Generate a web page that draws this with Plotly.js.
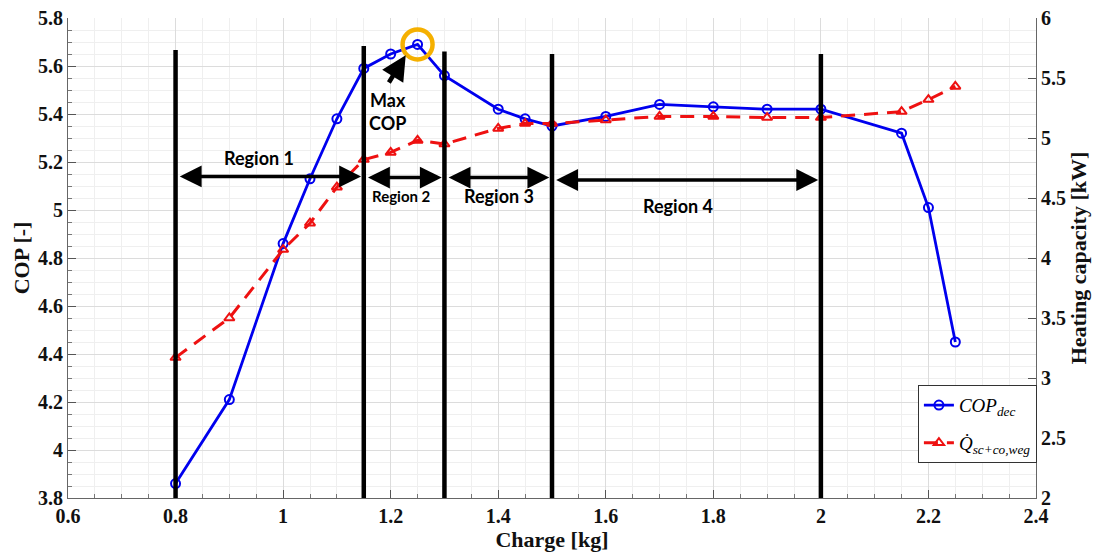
<!DOCTYPE html>
<html>
<head>
<meta charset="utf-8">
<script src="https://cdn.plot.ly/plotly-3.0.1.min.js"></script>
<style>html,body{margin:0;padding:0;background:#fff;}#chart{width:1104px;height:559px;}</style>
</head>
<body>
<div id="chart"></div>
<script>
// Data
const charge = [0.8, 0.9, 1.0, 1.05, 1.1, 1.15, 1.2, 1.25, 1.3, 1.4, 1.45, 1.5, 1.6, 1.7, 1.8, 1.9, 2.0, 2.15, 2.2, 2.25];
const copDec = [3.86, 4.21, 4.86, 5.13, 5.38, 5.59, 5.65, 5.69, 5.56, 5.42, 5.38, 5.35, 5.39, 5.44, 5.43, 5.42, 5.42, 5.32, 5.01, 4.45];
const heatCap = [3.17, 3.50, 4.07, 4.29, 4.59, 4.82, 4.88, 4.98, 4.95, 5.08, 5.12, 5.12, 5.15, 5.18, 5.18, 5.17, 5.17, 5.22, 5.32, 5.43];
const regionBounds = [0.8, 1.15, 1.3, 1.5, 2.0];
const regionTops = [5.667, 5.683, 5.66, 5.65, 5.65];
const regionNames = ["Region 1", "Region 2", "Region 3", "Region 4"];
const regionArrowY = [5.14, 5.135, 5.135, 5.125];
const regionLabelPos = [[0.956, 5.217], [1.22, 5.058], [1.401, 5.058], [1.735, 5.017]];
const regionLabelSize = [18, 15, 18, 18];
const xTicks = [0.6, 0.8, 1, 1.2, 1.4, 1.6, 1.8, 2, 2.2, 2.4];
const xTickLabels = ["0.6", "0.8", "1", "1.2", "1.4", "1.6", "1.8", "2", "2.2", "2.4"];
const yTicks = [3.8, 4, 4.2, 4.4, 4.6, 4.8, 5, 5.2, 5.4, 5.6, 5.8];
const yTickLabels = ["3.8", "4", "4.2", "4.4", "4.6", "4.8", "5", "5.2", "5.4", "5.6", "5.8"];
const y2Ticks = [2, 2.5, 3, 3.5, 4, 4.5, 5, 5.5, 6];
const y2TickLabels = ["2", "2.5", "3", "3.5", "4", "4.5", "5", "5.5", "6"];

const maxIdx = copDec.indexOf(Math.max(...copDec));
const bold = arr => arr.map(s => '<b>' + s + '</b>');

const traces = [
  {
    x: charge, y: copDec, type: 'scatter', mode: 'lines+markers',
    name: '<i>COP</i><sub><i>dec</i></sub>', legendgroup: 'a',
    line: {color: '#0000ee', width: 2.8},
    marker: {symbol: 'circle-open', size: 9, color: '#0000ee', line: {width: 2, color: '#0000ee'}},
    yaxis: 'y'
  },
  {
    x: charge, y: heatCap, type: 'scatter', mode: 'lines+markers',
    name: '<i>Q̇</i><sub><i>sc+co,weg</i></sub>', legendgroup: 'b',
    line: {color: '#ee1111', width: 3, dash: '14px,9px'},
    marker: {symbol: 'triangle-up-open', size: 9, color: '#ee1111', line: {width: 2, color: '#ee1111'}},
    yaxis: 'y2'
  },
  {
    x: [charge[maxIdx]], y: [copDec[maxIdx]], type: 'scatter', mode: 'markers',
    showlegend: false, hoverinfo: 'skip',
    marker: {symbol: 'circle-open', size: 30, color: '#f5b000', line: {width: 4.5, color: '#f5b000'}},
    yaxis: 'y'
  }
];

const shapes = regionBounds.map((b, i) => ({
  type: 'line', xref: 'x', yref: 'y', x0: b, x1: b, y0: 3.8, y1: regionTops[i],
  line: {color: '#000', width: 4.5}, layer: 'above'
}));

const annotations = [];
for (let i = 0; i < regionNames.length; i++) {
  annotations.push({
    xref: 'x', yref: 'y', axref: 'x', ayref: 'y',
    x: regionBounds[i + 1] - 0.005, y: regionArrowY[i],
    ax: regionBounds[i] + 0.005, ay: regionArrowY[i],
    text: '', showarrow: true, arrowside: 'end+start',
    arrowhead: 2, arrowsize: 1.25, arrowwidth: 3.5, arrowcolor: '#000'
  });
  annotations.push({
    xref: 'x', yref: 'y', x: regionLabelPos[i][0], y: regionLabelPos[i][1],
    text: '<b>' + regionNames[i] + '</b>', showarrow: false,
    font: {family: 'Lato, "Open Sans", sans-serif', size: regionLabelSize[i], color: '#000'}
  });
}
annotations.push({
  xref: 'x', yref: 'y', axref: 'x', ayref: 'y',
  x: 1.228, y: 5.645, ax: 1.195, ay: 5.525,
  text: '', showarrow: true, arrowhead: 2, arrowsize: 1.1, arrowwidth: 4.5, arrowcolor: '#000'
});
annotations.push({
  xref: 'x', yref: 'y', x: 1.195, y: 5.41,
  text: '<b>Max<br>COP</b>', showarrow: false, align: 'center',
  font: {family: 'Lato, "Open Sans", sans-serif', size: 18, color: '#000'}
});

const tickFont = {family: '"Liberation Serif", "Times New Roman", serif', size: 20, color: '#111'};
const titleFont = {family: '"Liberation Serif", "Times New Roman", serif', size: 22, color: '#111'};

const layout = {
  width: 1104, height: 559,
  margin: {l: 68, r: 68, t: 18, b: 61},
  paper_bgcolor: '#fff', plot_bgcolor: '#fff',
  showlegend: true,
  legend: {
    x: 0.878, y: 0.235, xanchor: 'left', yanchor: 'top',
    bgcolor: '#fff', bordercolor: '#333', borderwidth: 1,
    font: {family: '"Liberation Serif", "DejaVu Serif", serif', size: 19, color: '#000'},
    traceorder: 'grouped', tracegroupgap: 10, itemwidth: 30
  },
  xaxis: {
    range: [0.6, 2.4], tickvals: xTicks, ticktext: bold(xTickLabels),
    ticks: 'inside', ticklen: 8, tickcolor: '#555', tickwidth: 1,
    showline: true, linecolor: '#666', linewidth: 1, mirror: false,
    showgrid: true, gridcolor: '#dcdcdc', gridwidth: 1, zeroline: false,
    minor: {dtick: 0.05, showgrid: true, gridcolor: '#efefef', ticks: 'inside', ticklen: 4, tickcolor: '#777'},
    tickfont: tickFont,
    title: {text: '<b>Charge [kg]</b>', font: titleFont, standoff: 4}
  },
  yaxis: {
    range: [3.8, 5.8], tickvals: yTicks, ticktext: bold(yTickLabels),
    ticks: 'inside', ticklen: 8, tickcolor: '#555',
    showline: true, linecolor: '#666', linewidth: 1,
    showgrid: true, gridcolor: '#dcdcdc', zeroline: false,
    minor: {dtick: 0.05, tick0: 3.8, showgrid: true, gridcolor: '#efefef', ticks: 'inside', ticklen: 4, tickcolor: '#777'},
    tickfont: tickFont,
    title: {text: '<b>COP [-]</b>', font: titleFont, standoff: 2}
  },
  yaxis2: {
    range: [2, 6], tickvals: y2Ticks, ticktext: bold(y2TickLabels),
    overlaying: 'y', side: 'right',
    ticks: 'inside', ticklen: 8, tickcolor: '#555',
    showline: true, linecolor: '#666', linewidth: 1,
    showgrid: false, zeroline: false,
    tickfont: tickFont,
    title: {text: '<b>Heating capacity [kW]</b>', font: titleFont, standoff: 4}
  },
  shapes: shapes,
  annotations: annotations
};

Plotly.newPlot('chart', traces, layout, {staticPlot: true, displayModeBar: false});
</script>
</body>
</html>
